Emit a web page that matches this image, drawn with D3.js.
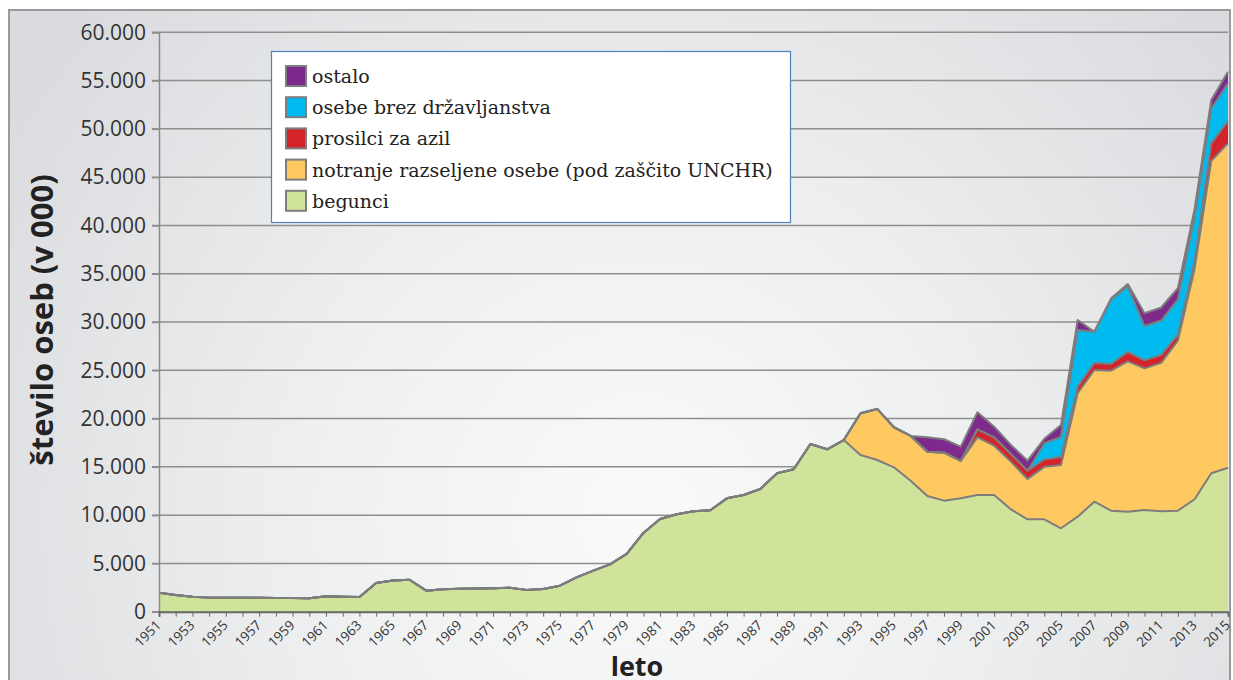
<!DOCTYPE html>
<html>
<head>
<meta charset="utf-8">
<script src="https://cdnjs.cloudflare.com/ajax/libs/d3/7.8.5/d3.min.js"></script>
<style>
  html, body { margin: 0; padding: 0; background: #fff; }
  svg { display: block; }
</style>
</head>
<body>
<script>
// years 1951..2015
const years = d3.range(1951, 2016);

// values in thousands
const begunci = [
  1970, 1730, 1560, 1460, 1450, 1450, 1450, 1430, 1420, 1390,
  1590, 1560, 1520, 2980, 3240, 3310, 2180, 2320, 2380, 2390,
  2420, 2480, 2260, 2350, 2690, 3560, 4250, 4900, 5980, 8150,
  9600, 10100, 10400, 10500, 11740, 12080, 12700, 14330, 14750, 17370,
  16820, 17780, 16230, 15710, 14950, 13570, 11980, 11500, 11740, 12090,
  12090, 10600, 9570, 9570, 8640, 9840, 11390, 10460, 10360, 10530,
  10400, 10460, 11640, 14330, 14910
];
// 1993..2015
const notranje = [
  4320, 5290, 4150, 4630, 4590, 4970, 3870, 5970, 5100, 4940,
  4170, 5430, 6550, 12780, 13640, 14500, 15570, 14670, 15370, 17600,
  23860, 32370, 33590
];
// 2000..2015
const prosilci = [
  830, 870, 795, 860, 760, 830, 685, 720, 690, 970,
  830, 810, 640, 800, 1800, 2300
];
// 2004..2015
const brezDrz = [
  1680, 2100, 5870, 3240, 6650, 6820, 3550, 3570, 3660, 4600, 3630, 3920
];
// 1997..2015
const ostalo = [
  1490, 1385, 1485, 1760, 1100, 930, 1040, 460, 1210, 1030,
  0, 150, 210, 1320, 1350, 1140, 800, 860, 1200
];

const seriesNames = ["begunci", "notranje", "prosilci", "brez", "ostalo"];
const legendLabels = [
  "ostalo",
  "osebe brez državljanstva",
  "prosilci za azil",
  "notranje razseljene osebe (pod zaščito UNCHR)",
  "begunci"
];
const colors = {
  begunci: "#d0e39b",
  notranje: "#ffc962",
  prosilci: "#d5232b",
  brez: "#00baf0",
  ostalo: "#7d2a8c"
};
const yTicks = d3.range(0, 60001, 5000);

function pad(arr, startYear) {
  return years.map(y => (y >= startYear && y - startYear < arr.length) ? arr[y - startYear] : 0);
}
const cols = {
  begunci: begunci,
  notranje: pad(notranje, 1993),
  prosilci: pad(prosilci, 2000),
  brez: pad(brezDrz, 2004),
  ostalo: pad(ostalo, 1997)
};
const table = years.map((yr, i) => {
  const row = { year: yr };
  seriesNames.forEach(k => row[k] = cols[k][i]);
  return row;
});

const W = 1233, H = 680;
const svg = d3.select("body").append("svg").attr("width", W).attr("height", H);

const defs = svg.append("defs");
const grad = defs.append("radialGradient").attr("id", "bg")
  .attr("gradientUnits", "userSpaceOnUse")
  .attr("cx", 640).attr("cy", 520).attr("r", 760);
grad.append("stop").attr("offset", "0%").attr("stop-color", "#fafafa");
grad.append("stop").attr("offset", "45%").attr("stop-color", "#eeeff0");
grad.append("stop").attr("offset", "100%").attr("stop-color", "#dadbde");

svg.append("rect")
  .attr("x", 9).attr("y", 10).attr("width", 1221).attr("height", 700)
  .attr("fill", "url(#bg)").attr("stroke", "#9a9a9a").attr("stroke-width", 2);

const x = d3.scaleLinear().domain([1951, 2015]).range([159, 1228]);
const y = d3.scaleLinear().domain([0, 60000]).range([611.7, 32.3]);

const sl = d3.formatLocale({ decimal: ",", thousands: ".", grouping: [3], currency: ["", ""] });
const fmt = sl.format(",");

// gridlines
svg.append("g").selectAll("line").data(yTicks).join("line")
  .attr("x1", 152).attr("x2", 1228)
  .attr("y1", d => y(d)).attr("y2", d => y(d))
  .attr("stroke", "#8e8e8e").attr("stroke-width", 1.5);

// stacked areas
const stack = d3.stack().keys(seriesNames);
const layers = stack(table);

const area = d3.area()
  .x(d => x(d.data.year))
  .y0(d => y(d[0]))
  .y1(d => y(d[1]));
const topLine = d3.line()
  .x(d => x(d.data.year))
  .y(d => y(d[1]));

svg.append("g").selectAll("path").data(layers).join("path")
  .attr("d", area)
  .attr("fill", d => colors[d.key]);

svg.append("g").selectAll("path").data(layers).join("path")
  .attr("d", topLine)
  .attr("fill", "none")
  .attr("stroke", "#7d7d7d")
  .attr("stroke-width", 2)
  .attr("stroke-linejoin", "round");

// y axis
const yAxis = d3.axisLeft(y).tickValues(yTicks).tickSize(7).tickPadding(6).tickFormat(fmt);
const gy = svg.append("g").attr("transform", "translate(159,0)").call(yAxis);
gy.select(".domain").attr("stroke", "#8a8a8a").attr("stroke-width", 1.5);
gy.selectAll(".tick line").attr("stroke", "#8e8e8e").attr("stroke-width", 1.5);
gy.selectAll(".tick text")
  .attr("font-family", "'Open Sans', 'Noto Sans', sans-serif")
  .attr("font-size", 21).attr("fill", "#333");

// x axis
const xAxis = d3.axisBottom(x).tickValues(years).tickSize(5).tickFormat("");
const gx = svg.append("g").attr("transform", "translate(0,611.7)").call(xAxis);
gx.select(".domain").attr("stroke", "#6a6a6a").attr("stroke-width", 2);
gx.selectAll(".tick line").attr("stroke", "#6a6a6a").attr("stroke-width", 1);

svg.append("g").selectAll("text").data(years.filter(d => d % 2 === 1)).join("text")
  .attr("transform", d => `translate(${x(d) + 3},${626}) rotate(-45)`)
  .attr("text-anchor", "end")
  .attr("font-family", "'Open Sans', 'Noto Sans', sans-serif")
  .attr("font-size", 13.5)
  .attr("fill", "#333")
  .text(d => d);

// axis titles
svg.append("text")
  .attr("transform", "translate(53,320) rotate(-90)")
  .attr("text-anchor", "middle")
  .attr("font-family", "'Open Sans', 'Noto Sans', sans-serif")
  .attr("font-weight", "bold")
  .attr("font-size", 31)
  .attr("fill", "#222")
  .text("število oseb (v 000)");

svg.append("text")
  .attr("x", 637).attr("y", 676)
  .attr("text-anchor", "middle")
  .attr("font-family", "'Open Sans', 'Noto Sans', sans-serif")
  .attr("font-weight", "bold")
  .attr("font-size", 27)
  .attr("fill", "#222")
  .text("leto");

// legend
const lg = svg.append("g");
lg.append("rect")
  .attr("x", 271.5).attr("y", 51.5).attr("width", 519).attr("height", 171)
  .attr("fill", "#fff").attr("stroke", "#4f81bd").attr("stroke-width", 1.2);

const legendKeys = ["ostalo", "brez", "prosilci", "notranje", "begunci"];
const rows = lg.selectAll("g.row").data(legendKeys).join("g")
  .attr("class", "row")
  .attr("transform", (d, i) => `translate(0,${76 + i * 31.2})`);
rows.append("rect")
  .attr("x", 286).attr("y", -10).attr("width", 20).attr("height", 20)
  .attr("fill", d => colors[d]).attr("stroke", "#7d7d7d").attr("stroke-width", 2);
rows.append("text")
  .attr("x", 312).attr("y", 7)
  .attr("font-family", "'DejaVu Serif', serif")
  .attr("font-size", 19)
  .attr("fill", "#222")
  .text((d, i) => legendLabels[i]);
</script>
</body>
</html>
